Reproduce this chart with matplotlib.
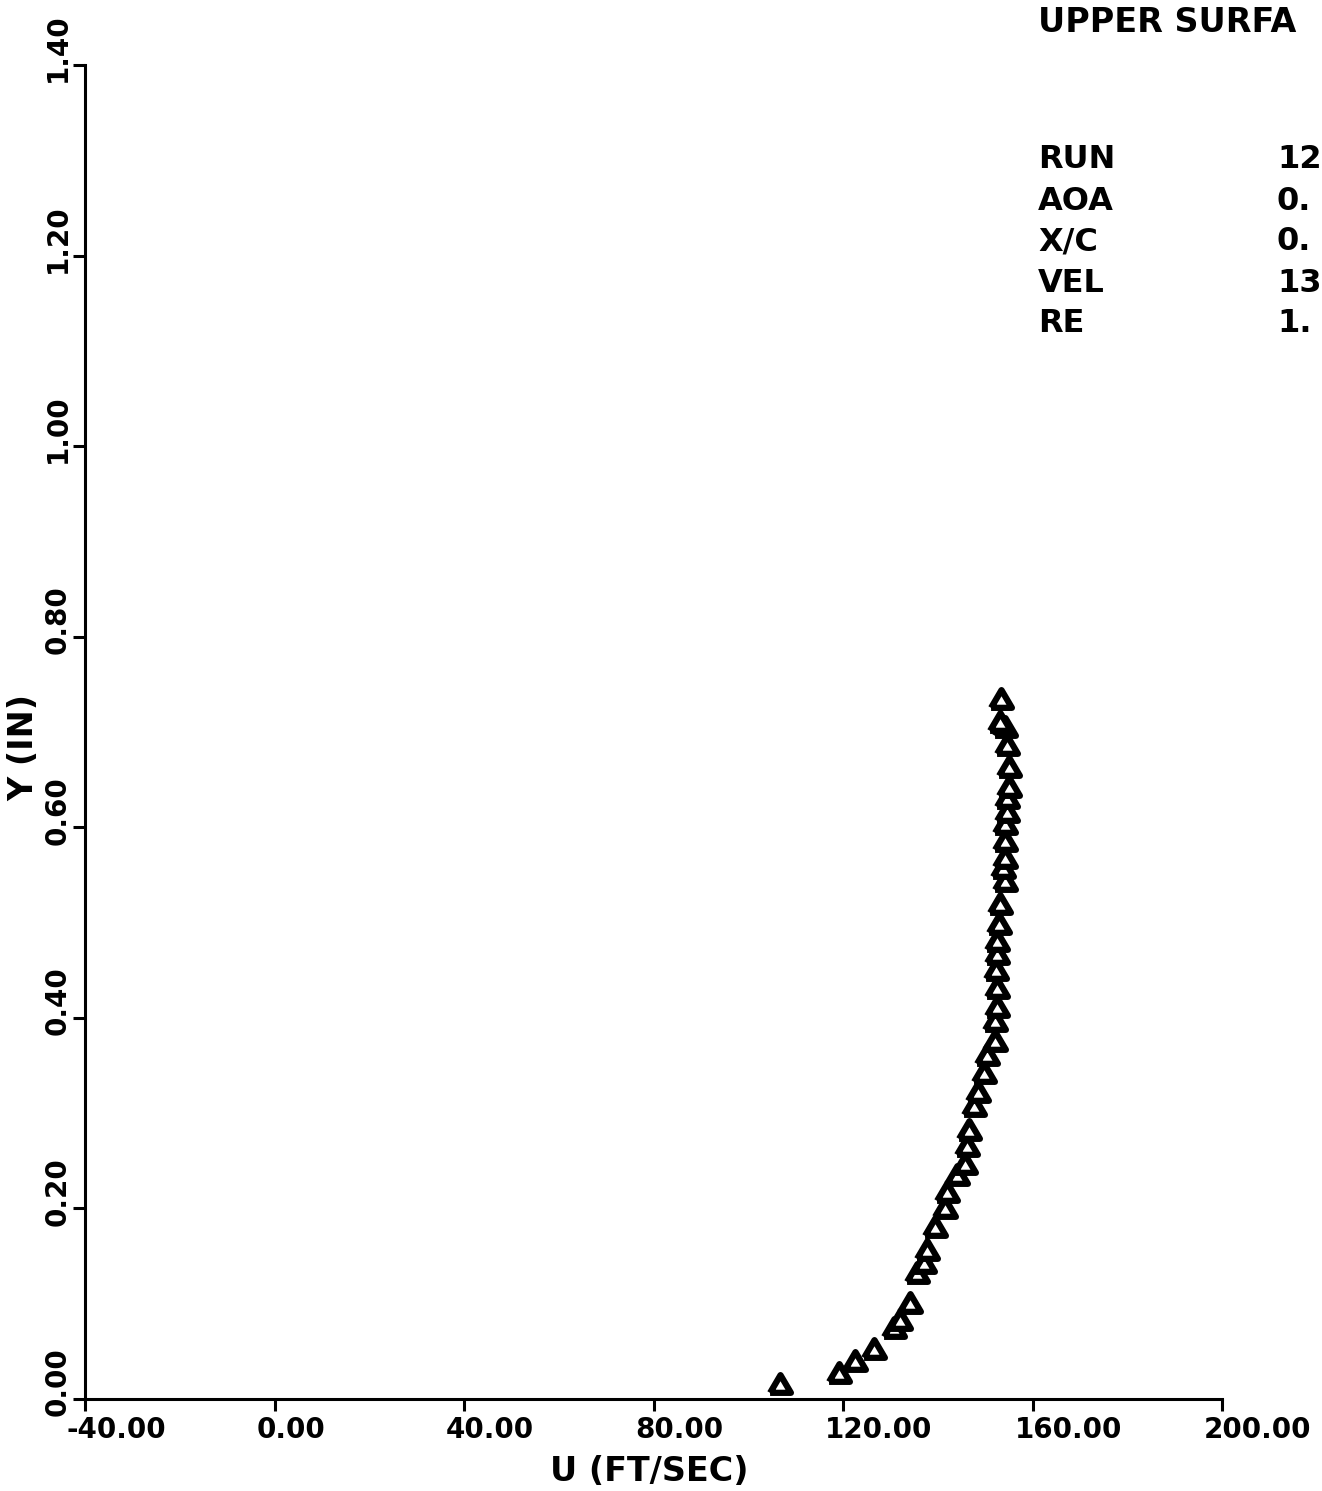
import matplotlib
matplotlib.use('Agg')
import matplotlib.pyplot as plt
from matplotlib.ticker import FormatStrFormatter
from matplotlib.transforms import ScaledTranslation

# boundary layer velocity profile
u = [106.7, 119.2, 122.5, 126.6, 130.8, 132.1, 134.2, 135.7, 137.1, 137.8,
     139.5, 141.6, 142.0, 144.1, 145.8, 146.2, 146.7, 147.7, 148.4, 149.8,
     150.5, 152.0, 152.0, 152.6, 152.6, 152.2, 152.6, 152.6, 153.0, 153.2,
     154.3, 153.7, 154.1, 154.1, 154.3, 154.7, 154.7, 155.1, 155.1, 154.7,
     154.3, 153.2, 153.4]
y = [0.016, 0.027, 0.040, 0.052, 0.075, 0.083, 0.101, 0.132, 0.143, 0.156,
     0.180, 0.200, 0.217, 0.235, 0.247, 0.266, 0.282, 0.307, 0.322, 0.342,
     0.361, 0.376, 0.397, 0.411, 0.431, 0.450, 0.467, 0.481, 0.499, 0.520,
     0.544, 0.557, 0.568, 0.586, 0.603, 0.616, 0.631, 0.642, 0.663, 0.686,
     0.705, 0.710, 0.735]

x_ticks = [-40, 0, 40, 80, 120, 160, 200]
y_ticks = [0.0, 0.2, 0.4, 0.6, 0.8, 1.0, 1.2, 1.4]

title_text = 'UPPER SURFA'
info_labels = ['RUN', 'AOA', 'X/C', 'VEL', 'RE']
info_values = ['12', '0.', '0.', '13', '1.']

plt.rcParams['font.family'] = 'DejaVu Sans'
plt.rcParams['font.weight'] = 'bold'
plt.rcParams['axes.unicode_minus'] = False

W, H = 1322, 1491
fig = plt.figure(figsize=(W / 100, H / 100), dpi=100)
ax = fig.add_axes([85 / W, 1 - 1399 / H, (1222 - 85) / W, (1399 - 65) / H])

tri = [(-1, -0.8), (1, -0.8), (0, 0.9), (-1, -0.8)]
ax.plot(u, y, linestyle='none', marker=tri, markersize=15,
        markerfacecolor='white', markeredgecolor='black', markeredgewidth=4.5)

ax.set_xlim(-40, 200)
ax.set_ylim(0, 1.4)
ax.set_xticks(x_ticks)
ax.set_yticks(y_ticks)
ax.xaxis.set_major_formatter(FormatStrFormatter('%.2f'))
ax.yaxis.set_major_formatter(FormatStrFormatter('%.2f'))

for side in ['top', 'right']:
    ax.spines[side].set_visible(False)
for side in ['left', 'bottom']:
    ax.spines[side].set_linewidth(2.2)

ax.tick_params(direction='out', length=8.6, width=2.2, labelsize=20)
ax.tick_params(axis='x', pad=4)
ax.tick_params(axis='y', pad=1, labelrotation=90)

for lab in ax.get_xticklabels():
    lab.set_ha('left')
    lab.set_transform(lab.get_transform() + ScaledTranslation(-0.18, 0, fig.dpi_scale_trans))
for lab in ax.get_yticklabels():
    lab.set_va('center')
    lab.set_transform(lab.get_transform() + ScaledTranslation(0, 0.17, fig.dpi_scale_trans))

ax.set_xlabel('U (FT/SEC)', fontsize=24, fontweight='bold')
ax.xaxis.set_label_coords((649 - 85) / 1137, -(1455 - 1399) / 1334)
ax.xaxis.label.set_va('top')
ax.set_ylabel('Y (IN)', fontsize=24, fontweight='bold')
ax.yaxis.set_label_coords(-(85 - 40) / 1137, (1399 - 748) / 1334)

# run info block, cut off at the right edge like the scan
fig.text(1038 / W, 1 - 22 / H, title_text, fontsize=24, fontweight='bold', va='center')
rows = [160, 201, 242, 283, 324]
for lbl, val, r in zip(info_labels, info_values, rows):
    fig.text(1038 / W, 1 - r / H, lbl, fontsize=23, fontweight='bold', va='center')
    fig.text(1277 / W, 1 - r / H, val, fontsize=23, fontweight='bold', va='center')

fig.savefig('out.png', dpi=100)
